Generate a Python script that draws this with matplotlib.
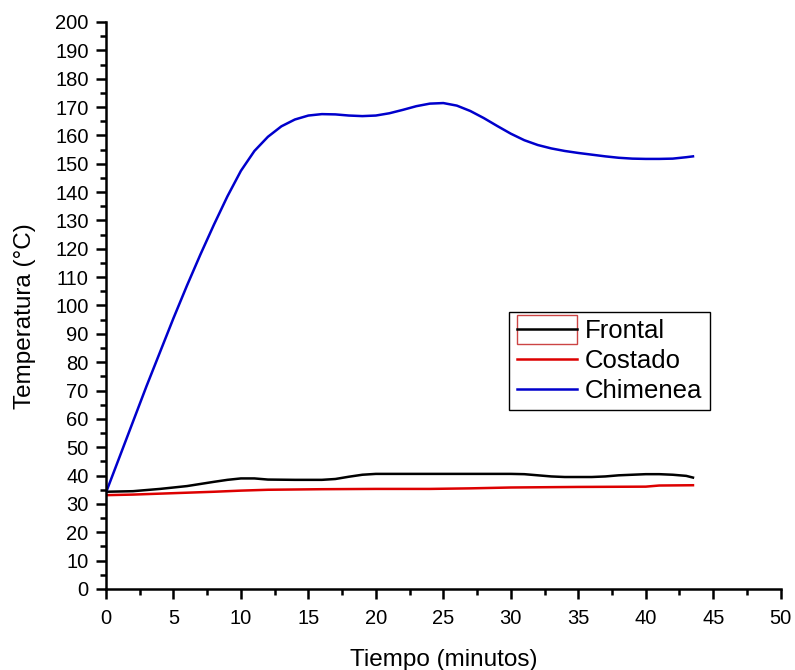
import matplotlib
matplotlib.use("Agg")
import matplotlib.pyplot as plt
from matplotlib.lines import Line2D
from matplotlib.patches import Rectangle
from matplotlib.legend_handler import HandlerBase
from matplotlib.ticker import MultipleLocator

plt.rcParams['font.family'] = ['Liberation Sans', 'DejaVu Sans']

# Time (minutes) and temperatures (°C)
t_chim = [0, 1, 2, 3, 4, 5, 6, 7, 8, 9, 10, 11, 12, 13, 14, 15, 16, 17, 18, 19, 20,
          21, 22, 23, 24, 25, 26, 27, 28, 29, 30, 31, 32, 33, 34, 35, 36, 37, 38, 39,
          40, 41, 42, 43, 43.5]
chimenea = [34, 46.5, 59, 71.5, 83.5, 95.5, 107, 118, 128.5, 138.5, 147.5, 154.5, 159.5, 163.2, 165.6, 167, 167.5, 167.4, 167, 166.8, 167,
            167.8, 169, 170.3, 171.2, 171.4, 170.5, 168.6, 166.1, 163.3, 160.6, 158.3, 156.6, 155.4, 154.5, 153.8, 153.2, 152.6, 152.1, 151.8,
            151.7, 151.7, 151.8, 152.3, 152.6]

t_front = [0, 2, 4, 6, 8, 9, 10, 11, 12, 14, 16, 17, 18, 19, 20, 22, 25, 28, 30, 31,
           32, 33, 34, 36, 37, 38, 40, 41, 42, 43, 43.5]
frontal = [34.3, 34.5, 35.3, 36.3, 37.8, 38.5, 39, 39, 38.6, 38.5, 38.5, 38.8, 39.6, 40.3, 40.6, 40.6, 40.6, 40.6, 40.6, 40.5,
           40.1, 39.7, 39.5, 39.5, 39.7, 40.1, 40.5, 40.5, 40.3, 39.9, 39.3]

t_cost = [0, 2, 5, 8, 10, 12, 16, 20, 24, 27, 30, 35, 40, 41, 43.5]
costado = [33.1, 33.3, 33.8, 34.3, 34.7, 35, 35.2, 35.3, 35.3, 35.5, 35.8, 36.0, 36.1, 36.5, 36.6]

labels = ['Frontal', 'Costado', 'Chimenea']
colors = ['black', '#dd0000', '#0000cc']


class FramedLineHandler(HandlerBase):
    """Legend key: a line inside an outlined box."""

    def create_artists(self, legend, orig_handle, xdescent, ydescent,
                       width, height, fontsize, trans):
        cy = (height - ydescent) / 2.0
        h = 1.15 * fontsize
        rect = Rectangle((-xdescent, cy - h / 2), width, h, facecolor='none',
                         edgecolor='#cc4444', lw=1.0, transform=trans)
        line = Line2D([-xdescent, -xdescent + width], [cy, cy],
                      color=orig_handle.get_color(), lw=orig_handle.get_linewidth(),
                      transform=trans)
        return [rect, line]


fig = plt.figure(figsize=(7.95, 6.7), dpi=100)
ax = fig.add_axes([0.1333, 0.1209, 0.8487, 0.8463])

l_front, = ax.plot(t_front, frontal, color=colors[0], lw=1.8)
l_cost, = ax.plot(t_cost, costado, color=colors[1], lw=1.8)
l_chim, = ax.plot(t_chim, chimenea, color=colors[2], lw=1.8)

ax.set_xlim(0, 50)
ax.set_ylim(0, 200)
ax.xaxis.set_major_locator(MultipleLocator(5))
ax.xaxis.set_minor_locator(MultipleLocator(2.5))
ax.yaxis.set_major_locator(MultipleLocator(10))
ax.yaxis.set_minor_locator(MultipleLocator(5))

for s in ('top', 'right'):
    ax.spines[s].set_visible(False)
for s in ('left', 'bottom'):
    ax.spines[s].set_linewidth(1.8)

ax.tick_params(which='major', direction='out', length=7.5, width=1.8, labelsize=14.5)
ax.tick_params(which='minor', direction='out', length=4, width=1.8)
ax.tick_params(axis='x', pad=7)
ax.tick_params(axis='y', pad=5)

ax.set_xlabel('Tiempo (minutos)', fontsize=17.5, labelpad=15)
ax.set_ylabel('Temperatura (°C)', fontsize=17.5)
ax.yaxis.set_label_coords(-0.104, 0.481)

leg = ax.legend([l_front, l_cost, l_chim], labels,
                handler_map={l_front: FramedLineHandler()},
                loc='upper left', bbox_to_anchor=(0.598, 0.489), borderaxespad=0,
                fontsize=18.5, fancybox=False, framealpha=1, edgecolor='black',
                handlelength=2.33, handletextpad=0.31, labelspacing=0.22,
                borderpad=0.3)
leg.get_frame().set_linewidth(1.0)

fig.savefig('out.png', dpi=100)
